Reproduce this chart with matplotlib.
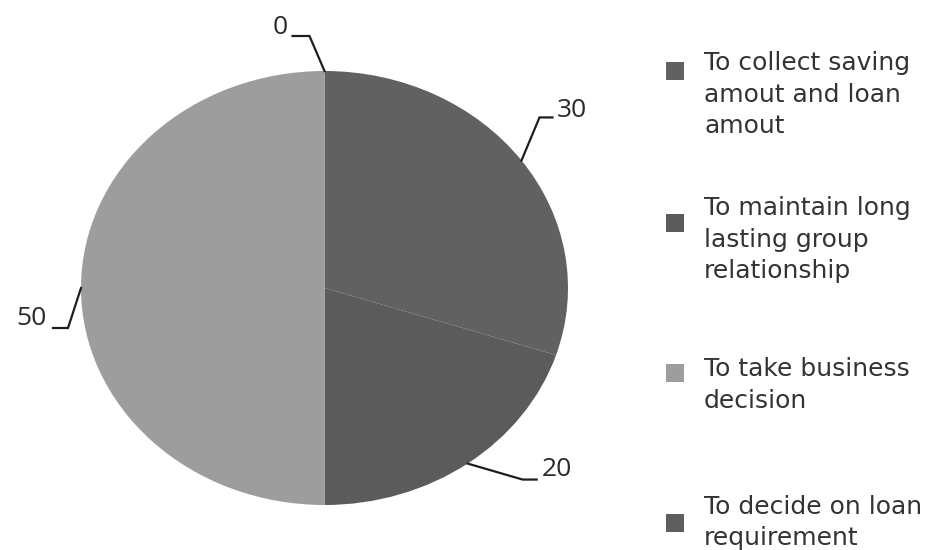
import numpy as np
import matplotlib
matplotlib.use('Agg')
import matplotlib.pyplot as plt

categories = ['To collect saving\namout and loan\namout',
              'To maintain long\nlasting group\nrelationship',
              'To take business\ndecision',
              'To decide on loan\nrequirement']
values = [30, 20, 50, 0]
colors = ['#616161', '#5b5b5b', '#9d9d9d', '#5e5e5e']

# label leader layout (pixel offsets from wedge edge: elbow, end, text)
leaderOffsets = [
  ((18, -43), (31, -43), (35, -50), 'left'),
  ((55, 16), (69, 16), (74, 6), 'left'),
  ((-13, 40), (-28, 40), (-34, 31), 'right'),
  ((-15, -35), (-32, -35), (-37, -43), 'right'),
]
legendMarkerY = [71, 223, 373, 523]
legendBaseY = [70, 215, 376, 514]  # baseline of first text line

fig = plt.figure(figsize=(9.42, 5.5), dpi=100)
W, H = 942, 550

# pie drawn as an ellipse in its own axes
pieAx = fig.add_axes([81 / W, (H - 505) / H, 487 / W, 434 / H])
wedges, _ = pieAx.pie(values, colors=colors, startangle=90, counterclock=False,
                      wedgeprops=dict(linewidth=0))
pieAx.set_aspect('auto')
pieAx.set_xlim(-1, 1)
pieAx.set_ylim(-1, 1)
pieAx.axis('off')

overlay = fig.add_axes([0, 0, 1, 1])
overlay.set_xlim(0, W)
overlay.set_ylim(H, 0)
overlay.axis('off')

toOverlay = overlay.transData.inverted()
for w, v, (elbow, end, txt, ha) in zip(wedges, values, leaderOffsets):
  mid = np.deg2rad((w.theta1 + w.theta2) / 2)
  ax0, ay0 = toOverlay.transform(pieAx.transData.transform((np.cos(mid), np.sin(mid))))
  xs = [ax0, ax0 + elbow[0], ax0 + end[0]]
  ys = [ay0, ay0 + elbow[1], ay0 + end[1]]
  overlay.plot(xs, ys, color='#1e1e1e', lw=1.6, solid_joinstyle='miter')
  overlay.text(ax0 + txt[0], ay0 + txt[1], str(v), ha=ha, va='center',
               fontsize=19, family='Open Sans', color='#2a2a2a')

# legend, one line at a time so the spacing matches
lineStep = 31.5
for cat, col, my, by in zip(categories, colors, legendMarkerY, legendBaseY):
  overlay.scatter([675], [my], marker='s', s=150, color=col, edgecolors='none')
  for k, line in enumerate(cat.split('\n')):
    overlay.text(704, by + k * lineStep, line, ha='left', va='baseline', fontsize=18,
                 family='DejaVu Sans', color='#333333')

fig.savefig('out.png', dpi=100)
